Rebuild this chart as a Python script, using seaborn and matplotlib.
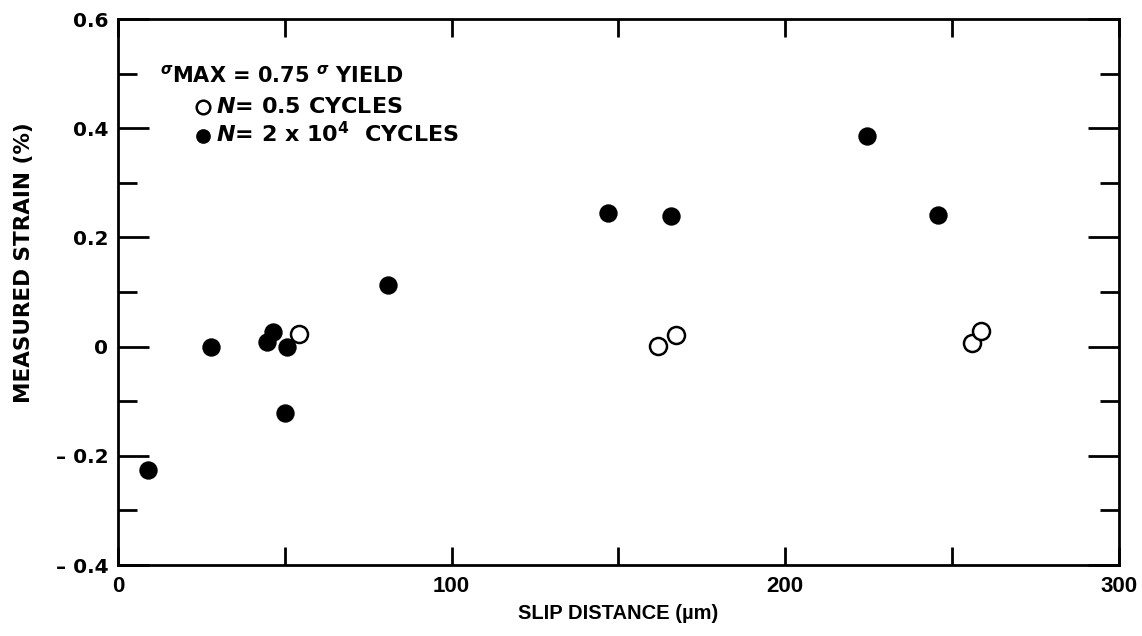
import matplotlib
matplotlib.use("Agg")
import matplotlib.pyplot as plt
import pandas as pd
import seaborn as sns
from matplotlib.ticker import MultipleLocator, FixedLocator

# slip distance (um) / measured strain (%)
filled_x = [9, 28, 44.6, 46.4, 50.6, 50, 81, 147, 165.7, 224.4, 245.7]
filled_y = [-0.226, 0.0, 0.008, 0.026, 0.0, -0.122, 0.112, 0.244, 0.239, 0.385, 0.241]
open_x = [54.2, 161.8, 167.2, 255.9, 258.6]
open_y = [0.024, 0.002, 0.022, 0.006, 0.028]

x_ticks = [0, 100, 200, 300]
y_ticks = [-0.4, -0.2, 0, 0.2, 0.4, 0.6]
y_tick_labels = ["\u2013 0.4", "\u2013 0.2", "0", "0.2", "0.4", "0.6"]

filled = pd.DataFrame({"slip": filled_x, "strain": filled_y})
opened = pd.DataFrame({"slip": open_x, "strain": open_y})

sns.set_theme(style="ticks")
plt.rcParams["font.family"] = ["DejaVu Sans"]
plt.rcParams["font.weight"] = "bold"
plt.rcParams["text.color"] = "black"
plt.rcParams["axes.labelcolor"] = "black"
plt.rcParams["mathtext.fontset"] = "custom"
plt.rcParams["mathtext.rm"] = "DejaVu Sans:bold"
plt.rcParams["mathtext.it"] = "DejaVu Sans:italic:bold"
plt.rcParams["mathtext.bf"] = "DejaVu Sans:bold"

narrow = ["Liberation Sans Narrow", "Liberation Sans", "DejaVu Sans"]

fig = plt.figure(figsize=(11.42, 6.36), dpi=100)
ax = fig.add_axes([0.1033, 0.1116, 0.8765, 0.8585])

sns.scatterplot(data=opened, x="slip", y="strain", ax=ax, s=150,
                facecolor="white", edgecolor="black", linewidth=1.8,
                label=r"$\mathit{N}$= 0.5 CYCLES", zorder=3)
sns.scatterplot(data=filled, x="slip", y="strain", ax=ax, s=175,
                color="black", edgecolor="black", linewidth=0,
                label=r"$\mathit{N}$= 2 x 10$^{4}$  CYCLES", zorder=3)

ax.set_xlim(0, 300)
ax.set_ylim(-0.4, 0.6)
ax.xaxis.set_major_locator(FixedLocator(x_ticks))
ax.xaxis.set_minor_locator(MultipleLocator(50))
ax.set_yticks(y_ticks)
ax.set_yticklabels(y_tick_labels)
ax.yaxis.set_minor_locator(MultipleLocator(0.1))

for side in ["left", "right", "top", "bottom"]:
    ax.spines[side].set_visible(True)
    ax.spines[side].set_linewidth(2.0)
    ax.spines[side].set_color("black")

ax.tick_params(axis="both", which="both", direction="in", top=True, right=True,
               width=2.0, color="black", labelcolor="black")
ax.tick_params(axis="x", which="both", length=13, pad=8)
ax.tick_params(axis="y", which="major", length=22, pad=7, labelsize=14.5)
ax.tick_params(axis="y", which="minor", length=14)
for lab in ax.get_xticklabels():
    lab.set_family(narrow)
    lab.set_fontsize(16)
    lab.set_fontweight("bold")

ax.set_xlabel("SLIP DISTANCE (\u00b5m)", fontsize=14.5, fontweight="bold",
              family=narrow, labelpad=5)
ax.set_ylabel("MEASURED STRAIN (%)", fontsize=15.5, fontweight="bold")
ax.yaxis.set_label_coords(-0.084, 0.553)

ax.text(0.042, 0.897, r"$^{\sigma}$MAX = 0.75 $^{\sigma}$ YIELD", transform=ax.transAxes,
        fontsize=15, fontweight="bold", ha="left", va="center")

leg = ax.legend(loc="upper left", bbox_to_anchor=(0.074, 0.858), frameon=False,
                fontsize=16, handletextpad=0.1, labelspacing=0.2,
                borderaxespad=0, borderpad=0, handlelength=1.0, markerscale=0.8)
for t in leg.get_texts():
    t.set_fontweight("bold")

fig.savefig("out.png", dpi=100)
